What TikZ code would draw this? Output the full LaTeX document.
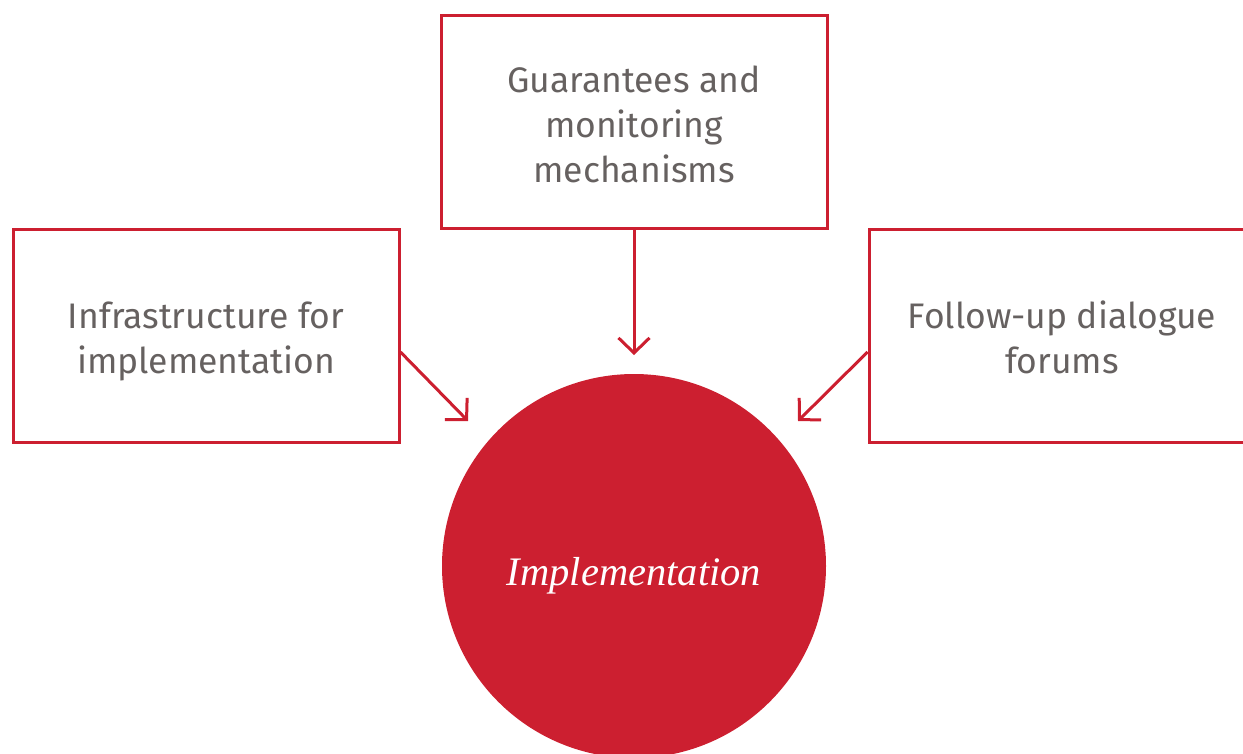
\documentclass[tikz,border=0pt]{standalone}
\usepackage{fontspec}
\setsansfont{Fira Sans}
\newfontfamily\serifit{Liberation Serif}
\usetikzlibrary{arrows.meta}
\definecolor{cred}{HTML}{CC1F30}
\definecolor{cgray}{HTML}{666160}
\begin{document}
\begin{tikzpicture}[x=1pt,y=-1pt,
  box/.style={draw=cred,line width=3pt,minimum width=386pt,minimum height=213pt,inner sep=0pt},
  boxtext/.style={inner sep=0pt,font=\sffamily\fontsize{35.5}{45}\selectfont,text=cgray,align=center},
  conn/.style={draw=cred,line width=3pt,-{Straight Barb[length=15pt,width=31pt]}}]
\useasboundingbox (0,0) rectangle (1243,753);
\node[box] (top) at (634,122) {};
\node[box] (left) at (206,335.5) {};
\node[box] (right) at (1062,335.5) {};
\node[boxtext] (toptext) at ([yshift=-2pt]top.center) {Guarantees and\\monitoring\\mechanisms};
\node[boxtext] (lefttext) at ([yshift=-6pt]left.center) {Infrastructure for\\implementation};
\node[boxtext] (righttext) at ([yshift=-2pt]right.center) {Follow-up dialogue\\forums};
\node[circle,fill=cred,minimum size=384pt,inner sep=0pt] (impl) at (634,566) {};
\node[inner sep=0pt,text=white,font=\serifit\itshape\fontsize{40.5}{44}\selectfont] (impltext)
  at ([yshift=-10pt]impl.center) {Implementation};
\coordinate (tt) at (634,355);
\coordinate (lt) at (468,421);
\coordinate (rt) at (798,421);
\draw[conn] (top.south) -- (tt);
\draw[conn] (left.east |- 0,352) -- (lt);
\draw[conn] (right.west |- 0,352) -- (rt);
\end{tikzpicture}
\end{document}
